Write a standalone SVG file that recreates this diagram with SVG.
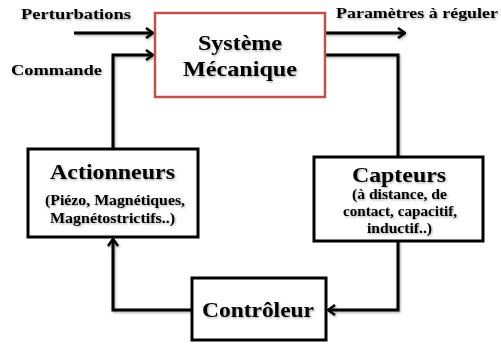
<svg xmlns="http://www.w3.org/2000/svg" width="501" height="344" viewBox="0 0 501 344">
<style>
.box{fill:#fff;stroke:#000;stroke-width:3}
.red{fill:#fff;stroke:#c0504d;stroke-width:2.5}
.c{stroke:#000;stroke-width:3;fill:none}
</style>
<defs>
<marker id="ah" markerWidth="10" markerHeight="12" refX="9" refY="6" orient="auto" markerUnits="userSpaceOnUse">
<path d="M2,1 L9,6 L2,11" fill="none" stroke="#000" stroke-width="2.5"/>
</marker>
<filter id="sh" x="-10%" y="-10%" width="130%" height="140%">
<feDropShadow dx="1" dy="1.2" stdDeviation="0.8" flood-color="#000" flood-opacity="0.35"/>
</filter>
</defs>
<rect width="501" height="344" fill="#fff"/>
<g id="connectors" filter="url(#sh)">
<path class="c" d="M74,33 H153" marker-end="url(#ah)"/>
<path class="c" d="M113,150 V55 H153" marker-end="url(#ah)"/>
<path class="c" d="M325,33 H405" marker-end="url(#ah)"/>
<path class="c" d="M325,55 H398 V157"/>
<path class="c" d="M398,241 V310 H328" marker-end="url(#ah)"/>
<path class="c" d="M192,310 H113 V239" marker-end="url(#ah)"/>
</g>
<g id="labels" filter="url(#sh)">
<text font-family="'Liberation Serif', serif" font-weight="bold" x="21" y="19" font-size="15" textLength="110" lengthAdjust="spacingAndGlyphs">Perturbations</text>
<text font-family="'Liberation Serif', serif" font-weight="bold" x="11" y="75" font-size="15" textLength="91" lengthAdjust="spacingAndGlyphs">Commande</text>
<text font-family="'Liberation Serif', serif" font-weight="bold" x="336" y="18" font-size="15" textLength="162" lengthAdjust="spacingAndGlyphs">Paramètres à réguler</text>
</g>
<g id="systeme">
<rect class="red" x="155" y="13" width="170" height="84"/>
<g filter="url(#sh)">
<text font-family="'Liberation Serif', serif" font-weight="bold" x="198" y="50" font-size="22" textLength="84" lengthAdjust="spacingAndGlyphs">Système</text>
<text font-family="'Liberation Serif', serif" font-weight="bold" x="183" y="76" font-size="22" textLength="114" lengthAdjust="spacingAndGlyphs">Mécanique</text>
</g>
</g>
<g id="actionneurs">
<rect class="box" x="28" y="149" width="170" height="88"/>
<g filter="url(#sh)">
<text font-family="'Liberation Serif', serif" font-weight="bold" x="50" y="179" font-size="21" textLength="125" lengthAdjust="spacingAndGlyphs">Actionneurs</text>
<text font-family="'Liberation Serif', serif" font-weight="bold" x="45" y="205" font-size="14" textLength="140" lengthAdjust="spacingAndGlyphs">(Piézo, Magnétiques,</text>
<text font-family="'Liberation Serif', serif" font-weight="bold" x="50" y="223" font-size="14" textLength="125" lengthAdjust="spacingAndGlyphs">Magnétostrictifs..)</text>
</g>
</g>
<g id="capteurs">
<rect class="box" x="314" y="157" width="169" height="84"/>
<g filter="url(#sh)">
<text font-family="'Liberation Serif', serif" font-weight="bold" x="352" y="182" font-size="21" textLength="94" lengthAdjust="spacingAndGlyphs">Capteurs</text>
<text font-family="'Liberation Serif', serif" font-weight="bold" x="352" y="199" font-size="14" textLength="95" lengthAdjust="spacingAndGlyphs">(à distance, de</text>
<text font-family="'Liberation Serif', serif" font-weight="bold" x="343" y="216" font-size="14" textLength="114" lengthAdjust="spacingAndGlyphs">contact, capacitif,</text>
<text font-family="'Liberation Serif', serif" font-weight="bold" x="367" y="233" font-size="14" textLength="65" lengthAdjust="spacingAndGlyphs">inductif..)</text>
</g>
</g>
<g id="controleur">
<rect class="box" x="192" y="278" width="134" height="62"/>
<g filter="url(#sh)">
<text font-family="'Liberation Serif', serif" font-weight="bold" x="202" y="317" font-size="21" textLength="112" lengthAdjust="spacingAndGlyphs">Contrôleur</text>
</g>
</g>
</svg>
